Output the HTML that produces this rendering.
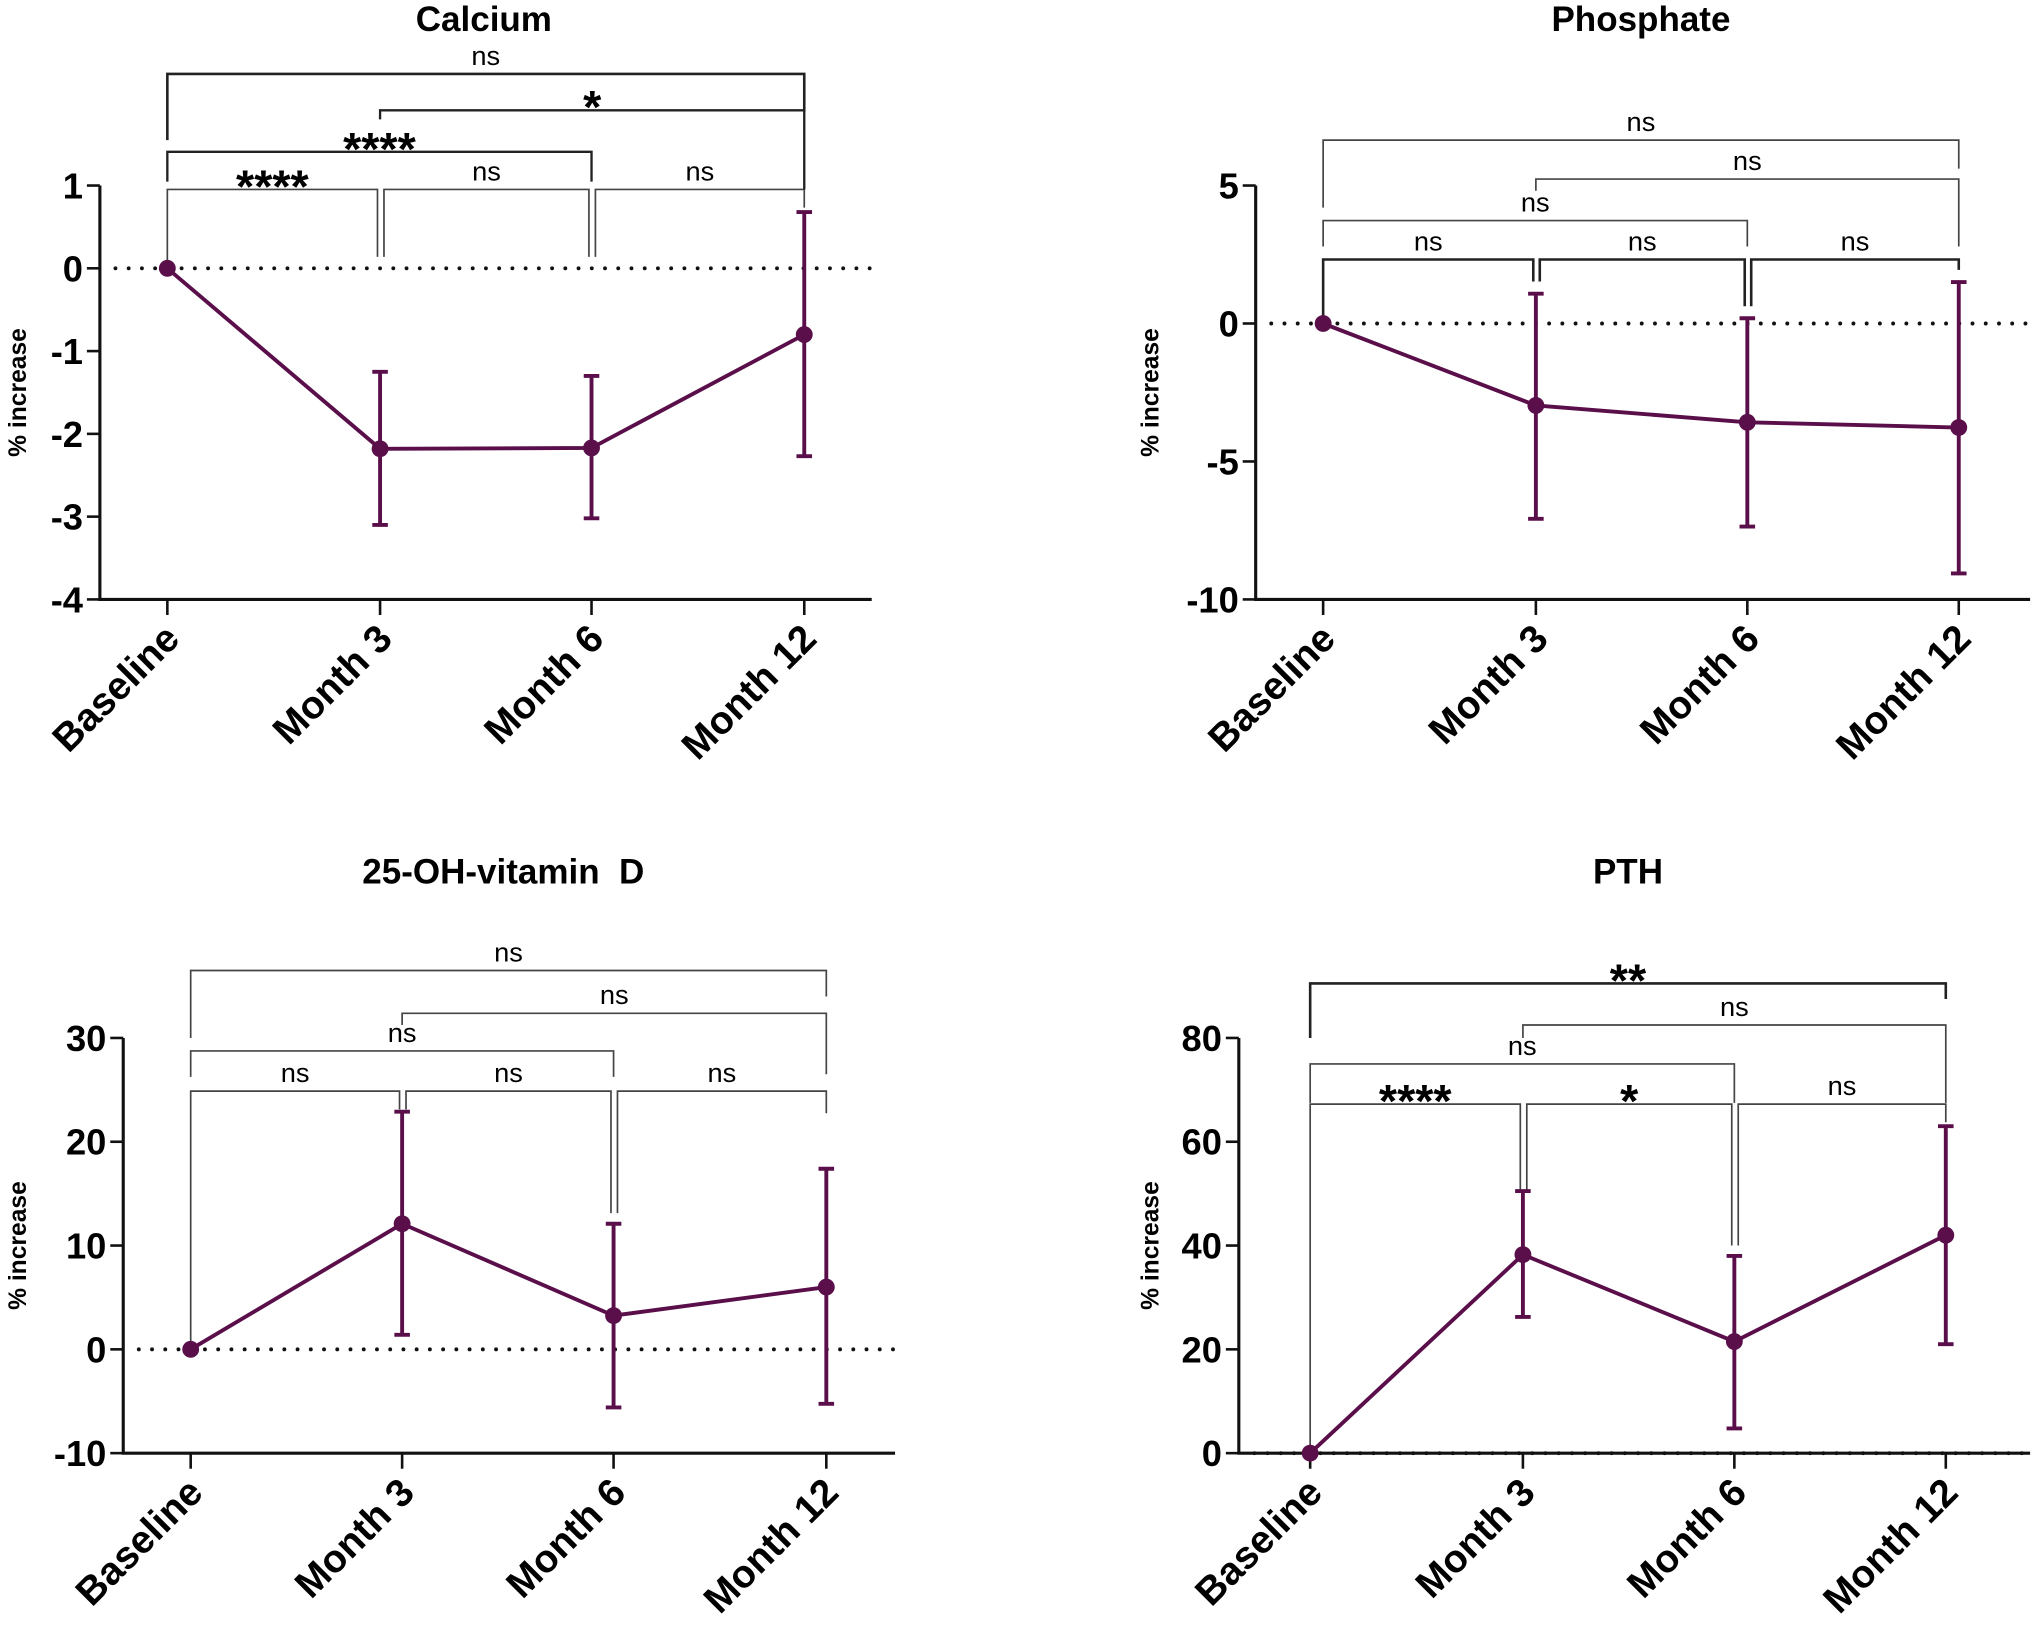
<!DOCTYPE html>
<html><head><meta charset="utf-8"><style>
html,body{margin:0;padding:0;background:#fff}
svg{display:block}
text{font-family:"Liberation Sans",Arial,sans-serif;white-space:pre}
</style></head><body>
<svg id="fig" width="2034" height="1627" viewBox="0 0 1568 1254" preserveAspectRatio="none"></svg>
<script>
const categories=["Baseline","Month 3","Month 6","Month 12"];
const caMeans=[0,-2.18,-2.17,-0.8];
const caLow=[0,-3.1,-3.02,-2.27];
const caHigh=[0,-1.25,-1.3,0.68];
const caTicks=[1,0,-1,-2,-3,-4];
const poMeans=[0,-2.97,-3.58,-3.77];
const poLow=[0,-7.08,-7.36,-9.06];
const poHigh=[0,1.08,0.19,1.5];
const poTicks=[5,0,-5,-10];
const vdMeans=[0,12.1,3.25,6.0];
const vdLow=[0,1.4,-5.6,-5.25];
const vdHigh=[0,22.9,12.1,17.4];
const vdTicks=[30,20,10,0,-10];
const ptMeans=[0,38.25,21.5,42];
const ptLow=[0,26.25,4.75,21];
const ptHigh=[0,50.5,38,63];
const ptTicks=[80,60,40,20,0];
const caSig=["****","ns","ns","****","*","ns"];
const poSig=["ns","ns","ns","ns","ns","ns"];
const vdSig=["ns","ns","ns","ns","ns","ns"];
const ptSig=["****","*","ns","ns","ns","**"];

const NS="http://www.w3.org/2000/svg";
const svg=document.getElementById("fig");
const C="#5a0f4a";
function mk(tag,attrs,parent){const e=document.createElementNS(NS,tag);for(const k in attrs)e.setAttribute(k,attrs[k]);(parent||svg).appendChild(e);return e;}

function panel(cfg){
  const g=mk("g",{});
  
  
  const y=v=>cfg.y0+(cfg.ymax-v)/(cfg.ymax-cfg.ymin)*(cfg.y1-cfg.y0);
  const x=i=>cfg.cats[i];
  const t=mk("text",{x:cfg.titleX,y:cfg.titleY,"font-size":27,"font-weight":"bold","text-anchor":"middle"},g);
  t.textContent=cfg.title;
  
  
  const yl=mk("text",{transform:`translate(${cfg.ylabX},${(cfg.y0+cfg.y1)/2}) rotate(-90)`,"font-size":19,"font-weight":"bold","text-anchor":"middle"},g);
  yl.textContent="% increase";
  
  
  const ax=mk("path",{d:`M${cfg.ax},${y(cfg.ymax)} V${y(cfg.ymin)} H${cfg.axEnd}`,stroke:"#111","stroke-width":2.4,fill:"none"},g);
  
  
  cfg.ticks.forEach(v=>{
    mk("line",{x1:cfg.ax-10,x2:cfg.ax,y1:y(v),y2:y(v),stroke:"#111","stroke-width":2},g);
    const tl=mk("text",{x:cfg.ax-13,y:y(v)+10,"font-size":28,"font-weight":"bold","text-anchor":"end"},g);
    tl.textContent=v;
    
    
  });
  categories.forEach((c,i)=>{
    mk("line",{x1:x(i),x2:x(i),y1:y(cfg.ymin),y2:y(cfg.ymin)+12,stroke:"#111","stroke-width":2},g);
    const xl=mk("text",{transform:`translate(${x(i)+11},${y(cfg.ymin)+32}) rotate(-45)`,"font-size":30,"font-weight":"bold","text-anchor":"end"},g);
    xl.textContent=c;
    
    
  });
  const z=mk("line",{x1:cfg.ax+12,x2:cfg.axEnd,y1:y(0),y2:y(0),stroke:"#111","stroke-width":3,"stroke-dasharray":"0 10.2","stroke-linecap":"round"},g);
  
  
  cfg.brackets.forEach((b,k)=>{
    const [i,j,by,l1,l2,w]=b;
    const xa=x(i)+(b[6]||0), xb=x(j)+(b[7]||0);
    const p=mk("path",{d:`M${xa},${l1} V${by} H${xb} V${l2}`,stroke:w>1.5?"#222":"#444","stroke-width":w,fill:"none"},g);
    
    
    const s=cfg.sig[k];
    const st=mk("text",{x:(xa+xb)/2,y:s.startsWith("*")?by+10:by-7,"font-size":s.startsWith("*")?36:21,"font-weight":s.startsWith("*")?"bold":"normal","text-anchor":"middle"},g);
    st.textContent=s;
    
    
  });
  const pts=cfg.means.map((m,i)=>`${x(i)},${y(m)}`).join(" ");
  const ln=mk("polyline",{points:pts,stroke:C,"stroke-width":3,fill:"none"},g);
  
  
  cfg.means.forEach((m,i)=>{
    if(cfg.high[i]!==cfg.low[i]){
      const eb=mk("path",{d:`M${x(i)},${y(cfg.high[i])} V${y(cfg.low[i])} M${x(i)-6},${y(cfg.high[i])} H${x(i)+6} M${x(i)-6},${y(cfg.low[i])} H${x(i)+6}`,stroke:C,"stroke-width":3,fill:"none"},g);
      
      
    }
    const d=mk("circle",{cx:x(i),cy:y(m),r:6.5,fill:C},g);
    
    
  });
}

panel({name:"calcium",title:"Calcium",titleX:373,titleY:24,ax:77,axEnd:672,y0:143,y1:462,ymax:1,ymin:-4,ylabX:20,
  cats:[129,293,456,620],ticks:caTicks,means:caMeans,low:caLow,high:caHigh,sig:caSig,
  brackets:[[0,1,146,206,198,1.3,0,-2],[1,2,146,198,198,1.3,3,-2],[2,3,146,198,160,1.3,3,0],
            [0,2,117,140,140,1.8,0,0],[1,3,85,92,146,1.8,0,0],[0,3,57,108,86,2,0,0]]});

panel({name:"phosphate",title:"Phosphate",titleX:1265,titleY:24,ax:968,axEnd:1565,y0:143,y1:462,ymax:5,ymin:-10,ylabX:893,
  cats:[1020,1184,1347,1510],ticks:poTicks,means:poMeans,low:poLow,high:poHigh,sig:poSig,
  brackets:[[0,1,200,244,217,2,0,-2],[1,2,200,217,236,2,3,-2],[2,3,200,236,208,2,3,0],
            [0,2,170,190,190,1.3,0,0],[1,3,138,147,190,1.3,0,0],[0,3,108,160,130,1.3,0,0]]});

panel({name:"vitamin-d",title:"25-OH-vitamin  D",titleX:388,titleY:681,ax:95,axEnd:690,y0:800,y1:1120,ymax:30,ymin:-10,ylabX:20,
  cats:[147,310,473,637],ticks:vdTicks,means:vdMeans,low:vdLow,high:vdHigh,sig:vdSig,
  brackets:[[0,1,841,1040,855,1.3,0,-2],[1,2,841,855,935,1.3,3,-2],[2,3,841,935,858,1.3,3,0],
            [0,2,810,830,830,1.3,0,0],[1,3,781,790,828,1.3,0,0],[0,3,748,800,768,1.3,0,0]]});

panel({name:"pth",title:"PTH",titleX:1255,titleY:681,ax:955,axEnd:1565,y0:800,y1:1120,ymax:80,ymin:0,ylabX:893,
  cats:[1010,1174,1337,1500],ticks:ptTicks,means:ptMeans,low:ptLow,high:ptHigh,sig:ptSig,
  brackets:[[0,1,851,1120,918,1.3,0,-2],[1,2,851,918,960,1.3,3,-2],[2,3,851,960,865,1.3,3,0],
            [0,2,820,850,850,1.3,0,0],[1,3,790,800,850,1.3,0,0],[0,3,758,800,770,2,0,0]]});
</script>
</body></html>
